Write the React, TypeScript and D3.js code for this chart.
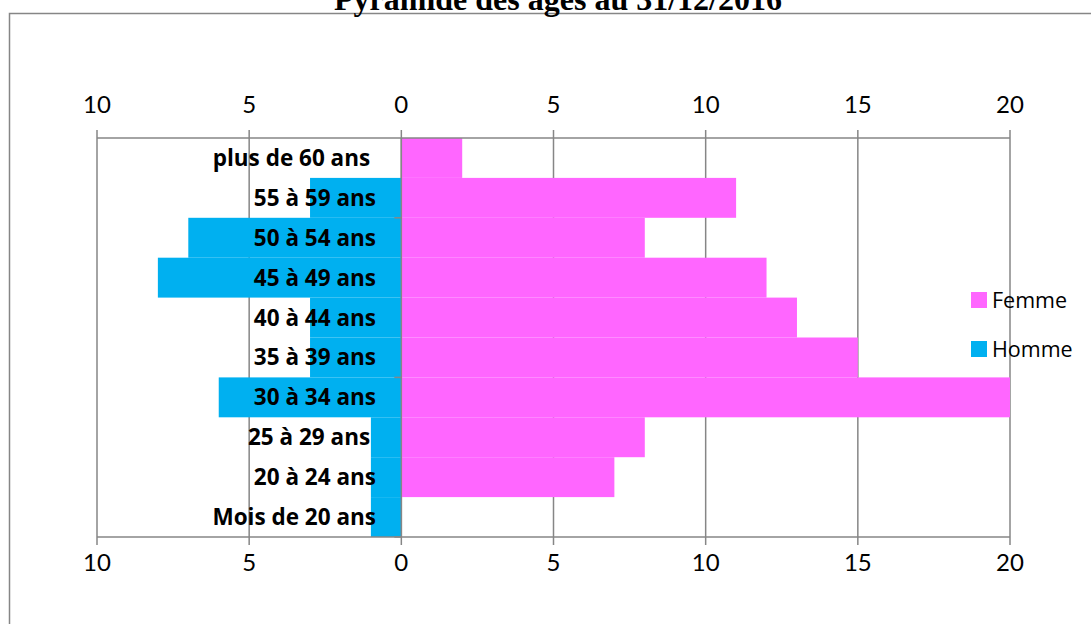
import { useMemo } from 'react'
import * as d3 from 'd3'

// Age groups, top to bottom (trailing spaces as in the source labels)
const categories = [
  'plus de 60 ans ',
  '55 à 59 ans',
  '50 à 54 ans',
  '45 à 49 ans',
  '40 à 44 ans',
  '35 à 39 ans',
  '30 à 34 ans',
  '25 à 29 ans ',
  '20 à 24 ans',
  'Mois de 20 ans',
]
const femme = [2, 11, 8, 12, 13, 15, 20, 8, 7, 0]
const homme = [0, 3, 7, 8, 3, 3, 6, 1, 1, 1]
const tickValues = [-10, -5, 0, 5, 10, 15, 20]
const seriesNames = ['Femme', 'Homme']

const PINK = '#FF66FF'
const BLUE = '#00B0F0'
const GRID = '#868686'
const TICK_FONT = 'Lato, "Open Sans", sans-serif'
const LABEL_FONT = '"Open Sans", Lato, sans-serif'

export default function App() {
  const width = 1091
  const height = 624

  const x = useMemo(() => d3.scaleLinear().domain([-10, 20]).range([97, 1010]), [])
  const y = useMemo(
    () => d3.scaleBand<string>().domain(categories).range([138, 537]).paddingInner(0).paddingOuter(0),
    []
  )
  const [top, bottom] = y.range()
  const bw = y.bandwidth()
  const x0 = x(0)

  // category tick marks every 4 categories, counted from the bottom
  const catTicks = d3.range(categories.length, -1, -4).map(i => top + i * bw)

  return (
    <svg
      width={width}
      height={height}
      style={{ position: 'fixed', top: 0, left: 0, background: '#fff' }}
    >
      <rect x={9.5} y={13.5} width={1200} height={800} fill="#fff" stroke={GRID} strokeWidth={1.5} />

      <text
        x={558}
        y={10}
        textAnchor="middle"
        fontFamily='"Liberation Serif", "Times New Roman", serif'
        fontWeight="bold"
        fontSize={32}
      >
        Pyramide des âges au 31/12/2016
      </text>

      {/* vertical gridlines */}
      {tickValues.map(t => (
        <line key={'g' + t} x1={x(t)} x2={x(t)} y1={top} y2={bottom} stroke={GRID} strokeWidth={1.5} />
      ))}

      {/* bars */}
      {categories.map((c, i) => (
        <g key={c}>
          {homme[i] > 0 && (
            <rect x={x(-homme[i])} y={y(c)} width={x0 - x(-homme[i])} height={bw} fill={BLUE} />
          )}
          {femme[i] > 0 && (
            <rect x={x0} y={y(c)} width={x(femme[i]) - x0} height={bw} fill={PINK} />
          )}
        </g>
      ))}

      {/* horizontal axes top and bottom */}
      {[top, bottom].map((yy, k) => (
        <g key={'ax' + k}>
          <line x1={x(-10)} x2={x(20)} y1={yy} y2={yy} stroke={GRID} strokeWidth={1.5} />
          {tickValues.map(t => (
            <g key={t}>
              <line
                x1={x(t)}
                x2={x(t)}
                y1={yy}
                y2={k === 0 ? yy - 8 : yy + 8}
                stroke={GRID}
                strokeWidth={1.5}
              />
              <text
                x={x(t)}
                y={k === 0 ? 113 : 571}
                textAnchor="middle"
                fontFamily={TICK_FONT}
                fontSize={24}
                fill="#000"
              >
                {Math.abs(t)}
              </text>
            </g>
          ))}
        </g>
      ))}

      {/* vertical category axis */}
      <line x1={x0} x2={x0} y1={top} y2={bottom} stroke={GRID} strokeWidth={1.5} />
      {catTicks.map(yy => (
        <line key={'ct' + yy} x1={x0 - 7} x2={x0} y1={yy} y2={yy} stroke={GRID} strokeWidth={1.5} />
      ))}

      {/* category labels */}
      {categories.map(c => (
        <text
          key={'l' + c}
          x={376}
          y={(y(c) ?? 0) + bw / 2 + 8}
          textAnchor="end"
          fontFamily={LABEL_FONT}
          fontWeight="bold"
          fontSize={22.5}
          style={{ whiteSpace: 'pre' }}
        >
          {c}
        </text>
      ))}

      {/* legend */}
      {seriesNames.map((s, i) => (
        <g key={s} transform={`translate(971, ${292 + i * 49})`}>
          <rect x={0} y={0} width={16} height={16} fill={i === 0 ? PINK : BLUE} />
          <text x={21} y={16} fontFamily={LABEL_FONT} fontSize={21.5} fill="#000">
            {s}
          </text>
        </g>
      ))}
    </svg>
  )
}
